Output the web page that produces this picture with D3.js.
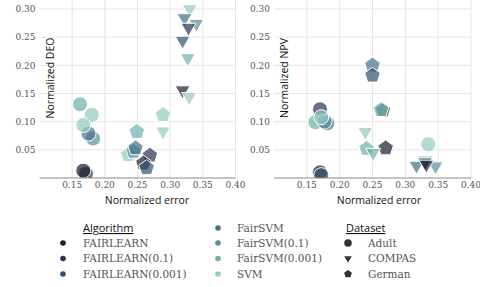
<!DOCTYPE html>
<html>
<head>
<meta charset="utf-8">
<script src="https://cdn.jsdelivr.net/npm/d3@7"></script>
<style>
  body { margin: 0; background: #fff; }
  svg { display: block; }
  .tick-label { font-family: "DejaVu Serif", serif; font-size: 9px; fill: #555; }
  .axis-title { font-family: "Open Sans", sans-serif; font-size: 10.5px; fill: #111; }
  .leg-text { font-family: "DejaVu Serif", serif; font-size: 10.5px; fill: #555; }
  .leg-title { font-family: "Open Sans", sans-serif; font-size: 11px; fill: #111; text-decoration: underline; }
</style>
</head>
<body>
<svg id="chart" width="480" height="287"></svg>
<script>
// algorithms and their colours
const algorithms = ["FAIRLEARN", "FAIRLEARN(0.1)", "FAIRLEARN(0.001)", "FairSVM", "FairSVM(0.1)", "FairSVM(0.001)", "SVM"];
const algColors  = ["#1b1d31", "#2b3150", "#33506f", "#44708a", "#56909f", "#6db0ab", "#93cbbd"];
const datasets   = ["Adult", "COMPAS", "German"];
const xTicks = [0.15, 0.20, 0.25, 0.30, 0.35, 0.40];
const yTicks = [0.05, 0.10, 0.15, 0.20, 0.25, 0.30];

// [algorithm index, normalized error, normalized metric]
const deoAdult = [[5,0.162,0.131],[6,0.180,0.112],[4,0.182,0.070],[3,0.175,0.079],[6,0.167,0.094],[1,0.171,0.008],[0,0.167,0.013]];
const deoCompas = [[6,0.330,0.300],[6,0.289,0.083],[3,0.322,0.284],[4,0.340,0.274],[1,0.328,0.267],[2,0.319,0.244],[5,0.327,0.213],[0,0.319,0.156],[6,0.329,0.144]];
const deoGerman = [[6,0.289,0.112],[5,0.249,0.082],[6,0.236,0.041],[4,0.244,0.047],[3,0.247,0.053],[1,0.269,0.040],[0,0.259,0.026],[2,0.264,0.018]];

const npvAdult = [[1,0.170,0.122],[5,0.163,0.099],[3,0.181,0.097],[4,0.177,0.100],[6,0.172,0.108],[0,0.170,0.010],[2,0.172,0.005],[6,0.335,0.060]];
const npvGerman = [[3,0.250,0.200],[2,0.250,0.182],[1,0.266,0.120],[5,0.263,0.121],[5,0.241,0.052],[0,0.270,0.053]];
const npvCompas = [[6,0.239,0.082],[5,0.251,0.045],[3,0.317,0.022],[4,0.346,0.021],[6,0.331,0.032],[1,0.330,0.028],[0,0.332,0.024]];

const svg = d3.select("#chart");

// pentagon generator (radius r)
function pentagon(r) {
  const pts = d3.range(5).map(i => {
    const a = -Math.PI / 2 + i * 2 * Math.PI / 5;
    return [r * Math.cos(a), r * Math.sin(a)];
  });
  return "M" + pts.map(p => p.join(",")).join("L") + "Z";
}
function markerPath(set, scale) {
  scale = scale || 1;
  if (set === "Adult") return d3.symbol(d3.symbolCircle, 177 * scale * scale)();
  if (set === "COMPAS") return d3.symbol(d3.symbolTriangle, 97 * scale * scale)();
  return pentagon(8.2 * scale);
}

function panel(id, x0, x1, yLabel, layers, labelX) {
  const x = d3.scaleLinear().domain([0.10, 0.40]).range([x0, x1]);
  const y = d3.scaleLinear().domain([0, 0.30]).range([178, 9]);
  const g = svg.append("g");

  // grid
  g.selectAll(".vg").data(xTicks).enter().append("line")
    .attr("x1", d => x(d)).attr("x2", d => x(d))
    .attr("y1", 0).attr("y2", y(0))
    .attr("stroke", "#e5e5e5").attr("stroke-width", 1);
  g.selectAll(".hg").data(yTicks).enter().append("line")
    .attr("x1", x0).attr("x2", x1)
    .attr("y1", d => y(d)).attr("y2", d => y(d))
    .attr("stroke", "#e5e5e5").attr("stroke-width", 1);

  // tick labels
  g.selectAll(".xt").data(xTicks).enter().append("text")
    .attr("class", "tick-label")
    .attr("x", d => x(d)).attr("y", 188)
    .attr("text-anchor", "middle")
    .text(d => d.toFixed(2));
  g.selectAll(".yt").data(yTicks).enter().append("text")
    .attr("class", "tick-label")
    .attr("x", x0 - 4).attr("y", d => y(d) + 3.2)
    .attr("text-anchor", "end")
    .text(d => d.toFixed(2));

  // clip
  svg.append("clipPath").attr("id", id)
    .append("rect").attr("x", x0).attr("y", 0).attr("width", x1 - x0).attr("height", y(0) - 0);

  const pts = g.append("g").attr("clip-path", `url(#${id})`);
  layers.forEach(([set, data]) => {
    pts.selectAll(null).data(data).enter().append("path")
      .attr("d", markerPath(set))
      .attr("transform", d => `translate(${x(d[1])},${y(d[2])})` + (set === "COMPAS" ? " rotate(180)" : ""))
      .attr("fill", d => algColors[d[0]])
      .attr("fill-opacity", 0.7)
      .attr("stroke", "#fff")
      .attr("stroke-width", 1);
  });

  // bottom axis line
  g.append("line").attr("x1", x0).attr("x2", x1)
    .attr("y1", y(0)).attr("y2", y(0))
    .attr("stroke", "#8a8a8a").attr("stroke-width", 1);

  g.append("text").attr("class", "axis-title")
    .attr("x", labelX).attr("y", 204)
    .attr("text-anchor", "middle")
    .text("Normalized error");
  g.append("text").attr("class", "axis-title")
    .attr("transform", `translate(${x0 + 14},${78}) rotate(-90)`)
    .attr("text-anchor", "middle")
    .text(yLabel);
}

panel("clipL", 39.5, 235.5, "Normalized DEO", [["Adult", deoAdult], ["COMPAS", deoCompas], ["German", deoGerman]], 147);
panel("clipR", 274, 471, "Normalized NPV", [["Adult", npvAdult], ["German", npvGerman], ["COMPAS", npvCompas]], 379);

// legend
const leg = svg.append("g");
const rowY = [243, 258.5, 274];
leg.append("text").attr("class", "leg-title").attr("x", 83).attr("y", 232).text("Algorithm");
algorithms.forEach((a, i) => {
  const col = i < 3 ? 0 : 1;
  const cy = col === 0 ? rowY[i] : [228, 243, 258.5, 274][i - 3];
  const mx = col === 0 ? 63 : 218;
  const tx = col === 0 ? 83 : 237;
  leg.append("circle").attr("cx", mx).attr("cy", cy).attr("r", 2.8).attr("fill", algColors[i]);
  leg.append("text").attr("class", "leg-text").attr("x", tx).attr("y", cy + 3.8).text(a);
});
leg.append("text").attr("class", "leg-title").attr("x", 346).attr("y", 232).text("Dataset");
datasets.forEach((s, i) => {
  leg.append("path")
    .attr("d", markerPath(s, 0.5))
    .attr("transform", `translate(348,${rowY[i]})` + (s === "COMPAS" ? " rotate(180)" : ""))
    .attr("fill", "#333");
  leg.append("text").attr("class", "leg-text").attr("x", 368).attr("y", rowY[i] + 3.8).text(s);
});
</script>
</body>
</html>
